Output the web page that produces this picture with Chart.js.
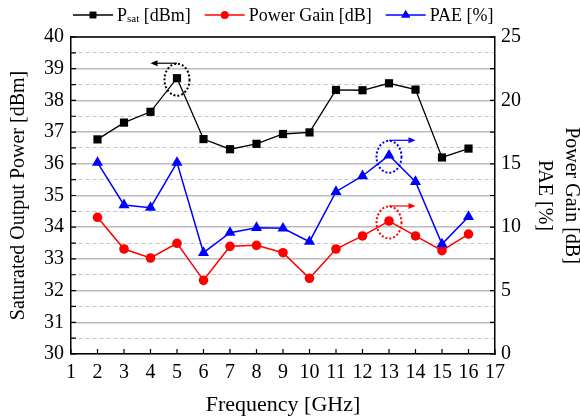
<!DOCTYPE html>
<html>
<head>
<meta charset="utf-8">
<script src="https://cdn.jsdelivr.net/npm/chart.js@4.4.0/dist/chart.umd.min.js"></script>
<style>
  html, body { margin: 0; padding: 0; background: #fff; }
</style>
</head>
<body>
<canvas id="chart" width="580" height="419"></canvas>
<script>
// values
const freq = [2, 3, 4, 5, 6, 7, 8, 9, 10, 11, 12, 13, 14, 15, 16];
const psat = [36.77, 37.30, 37.64, 38.70, 36.78, 36.46, 36.63, 36.94, 36.99, 38.33, 38.32, 38.54, 38.34, 36.20, 36.48];
const gain = [10.78, 8.28, 7.57, 8.73, 5.81, 8.49, 8.57, 7.99, 5.97, 8.28, 9.31, 10.49, 9.31, 8.15, 9.46];
const pae = [15.09, 11.75, 11.54, 15.09, 7.99, 9.57, 9.96, 9.91, 8.86, 12.80, 14.04, 15.67, 13.59, 8.67, 10.83];

const seriesLabels = ["Psat [dBm]", "Power Gain [dB]", "PAE [%]"];
const xTitle = "Frequency [GHz]";
const yLeftTitle = "Saturated Output Power [dBm]";
const yRightTitle = ["Power Gain [dB]", "PAE [%]"];

const FONT = "'Liberation Serif', 'Times New Roman', serif";

const toPoints = (ys) => ys.map((y, i) => ({ x: freq[i], y: y }));
const isHalf = (c) => c.tick && Math.abs(c.tick.value % 1) > 0.01;

// inward tick marks, top border, highlight circles/arrows and the legend
const decorations = {
    id: "decorations",
    afterDraw(chart) {
        const ctx = chart.ctx;
        const area = chart.chartArea;
        const sx = chart.scales.x;
        const yl = chart.scales.yL;
        const yr = chart.scales.yR;

        ctx.save();
        ctx.strokeStyle = "#000";
        ctx.lineWidth = 1.2;
        ctx.beginPath();
        sx.ticks.forEach(t => {
            const px = sx.getPixelForValue(t.value);
            ctx.moveTo(px, area.bottom);
            ctx.lineTo(px, area.bottom - 5);
        });
        yl.ticks.forEach(t => {
            const py = yl.getPixelForValue(t.value);
            ctx.moveTo(area.left, py);
            ctx.lineTo(area.left + 5, py);
        });
        yr.ticks.forEach(t => {
            const py = yr.getPixelForValue(t.value);
            ctx.moveTo(area.right, py);
            ctx.lineTo(area.right - 5, py);
        });
        ctx.stroke();

        // top frame line
        ctx.lineWidth = 1.5;
        ctx.beginPath();
        ctx.moveTo(area.left, area.top);
        ctx.lineTo(area.right, area.top);
        ctx.stroke();

        // dotted circles with arrows pointing at the axis of each curve
        const marks = [
            { i: 3, data: psat, scale: yl, color: "#000", dir: -1 },
            { i: 11, data: pae, scale: yr, color: "#0000ff", dir: 1 },
            { i: 11, data: gain, scale: yr, color: "#ff0000", dir: 1 }
        ];
        marks.forEach(m => {
            const cx = sx.getPixelForValue(freq[m.i]);
            const cy = m.scale.getPixelForValue(m.data[m.i]);
            ctx.strokeStyle = m.color;
            ctx.fillStyle = m.color;
            ctx.lineWidth = 2;
            ctx.setLineDash([2, 2]);
            ctx.beginPath();
            ctx.ellipse(cx, cy + 1.5, 12.5, 16, 0, 0, Math.PI * 2);
            ctx.stroke();
            ctx.setLineDash([]);

            const ay = cy - 15;
            const ex = sx.getPixelForValue(freq[m.i] + m.dir);
            ctx.lineWidth = 1.2;
            ctx.beginPath();
            ctx.moveTo(cx, ay);
            ctx.lineTo(ex - m.dir * 5, ay);
            ctx.stroke();
            ctx.beginPath();
            ctx.moveTo(ex, ay);
            ctx.lineTo(ex - m.dir * 7, ay - 3);
            ctx.lineTo(ex - m.dir * 7, ay + 3);
            ctx.closePath();
            ctx.fill();
        });

        // legend
        let x = 73;
        const ly = 15;
        chart.data.datasets.forEach((ds, k) => {
            ctx.strokeStyle = ds.borderColor;
            ctx.fillStyle = ds.borderColor;
            ctx.lineWidth = 1.5;
            ctx.beginPath();
            ctx.moveTo(x, ly);
            ctx.lineTo(x + 40, ly);
            ctx.stroke();
            Chart.helpers.drawPoint(ctx, {
                pointStyle: ds.pointStyle,
                radius: ds.pointRadius * 0.8,
                borderWidth: 0
            }, x + 20, ly);
            ctx.fill();
            x += 44;

            ctx.fillStyle = "#000";
            ctx.textBaseline = "alphabetic";
            ctx.textAlign = "left";
            const base = ly + 6;
            if (k === 0) {
                ctx.font = "18px " + FONT;
                ctx.fillText("P", x, base);
                x += ctx.measureText("P").width;
                ctx.font = "11px " + FONT;
                ctx.fillText("sat", x, base + 1);
                x += ctx.measureText("sat").width;
                ctx.font = "18px " + FONT;
                const rest = ds.label.slice(4);
                ctx.fillText(rest, x, base);
                x += ctx.measureText(rest).width;
            } else {
                ctx.font = "18px " + FONT;
                ctx.fillText(ds.label, x, base);
                x += ctx.measureText(ds.label).width;
            }
            x += 14;
        });
        ctx.restore();
    }
};

const ctxChart = document.getElementById("chart").getContext("2d");
new Chart(ctxChart, {
    type: "line",
    data: {
        datasets: [
            {
                label: seriesLabels[0],
                data: toPoints(psat),
                yAxisID: "yL",
                borderColor: "#000000",
                backgroundColor: "#000000",
                borderWidth: 1.3,
                pointStyle: "rect",
                pointRadius: 5.8,
                pointBorderWidth: 0,
                tension: 0,
                order: 3
            },
            {
                label: seriesLabels[1],
                data: toPoints(gain),
                yAxisID: "yR",
                borderColor: "#ff0000",
                backgroundColor: "#ff0000",
                borderWidth: 1.5,
                pointStyle: "circle",
                pointRadius: 4.8,
                pointBorderWidth: 0,
                tension: 0,
                order: 2
            },
            {
                label: seriesLabels[2],
                data: toPoints(pae),
                yAxisID: "yR",
                borderColor: "#0000ff",
                backgroundColor: "#0000ff",
                borderWidth: 1.5,
                pointStyle: "triangle",
                pointRadius: 6.4,
                pointBorderWidth: 0,
                tension: 0,
                order: 1
            }
        ]
    },
    options: {
        responsive: false,
        animation: false,
        devicePixelRatio: 1,
        layout: { padding: { top: 37, left: 0, right: 0, bottom: 0 } },
        plugins: {
            legend: { display: false },
            tooltip: { enabled: false }
        },
        scales: {
            x: {
                type: "linear",
                min: 1,
                max: 17,
                afterFit: (s) => { s.height = 65; },
                ticks: {
                    stepSize: 1,
                    padding: 7,
                    autoSkip: false,
                    maxRotation: 0,
                    minRotation: 0,
                    color: "#000",
                    font: { family: FONT, size: 20 }
                },
                grid: { drawOnChartArea: false, drawTicks: false },
                border: { color: "#000", width: 1.5 },
                title: {
                    display: true,
                    text: xTitle,
                    color: "#000",
                    font: { family: FONT, size: 22, lineHeight: 1.2 },
                    padding: { top: 0, bottom: 1 }
                }
            },
            yL: {
                type: "linear",
                position: "left",
                min: 30,
                max: 40,
                afterFit: (s) => { s.width = 71; },
                ticks: {
                    stepSize: 0.5,
                    autoSkip: false,
                    padding: 7,
                    color: "#000",
                    font: { family: FONT, size: 20 },
                    callback: (v) => (v % 1 === 0 ? v : "")
                },
                grid: {
                    drawTicks: false,
                    color: (c) => (isHalf(c) ? "#c4c4c4" : "#bcbcbc"),
                    lineWidth: (c) => (isHalf(c) ? 1 : 1.6)
                },
                border: {
                    color: "#000",
                    width: 1.5,
                    dash: (c) => (isHalf(c) ? [4, 3] : [])
                },
                title: {
                    display: true,
                    text: yLeftTitle,
                    color: "#000",
                    font: { family: FONT, size: 20, lineHeight: 1.2 },
                    padding: { top: 7, bottom: 0 }
                }
            },
            yR: {
                type: "linear",
                position: "right",
                min: 0,
                max: 25,
                afterFit: (s) => { s.width = 85; },
                ticks: {
                    stepSize: 2.5,
                    autoSkip: false,
                    padding: 6,
                    color: "#000",
                    font: { family: FONT, size: 20 },
                    callback: (v) => (v % 5 === 0 ? v : "")
                },
                grid: { drawOnChartArea: false, drawTicks: false },
                border: { color: "#000", width: 1.5 },
                title: {
                    display: true,
                    text: yRightTitle,
                    color: "#000",
                    font: { family: FONT, size: 20, lineHeight: 1.35 },
                    padding: { top: -5, bottom: 0 }
                }
            }
        }
    },
    plugins: [decorations]
});
</script>
</body>
</html>
